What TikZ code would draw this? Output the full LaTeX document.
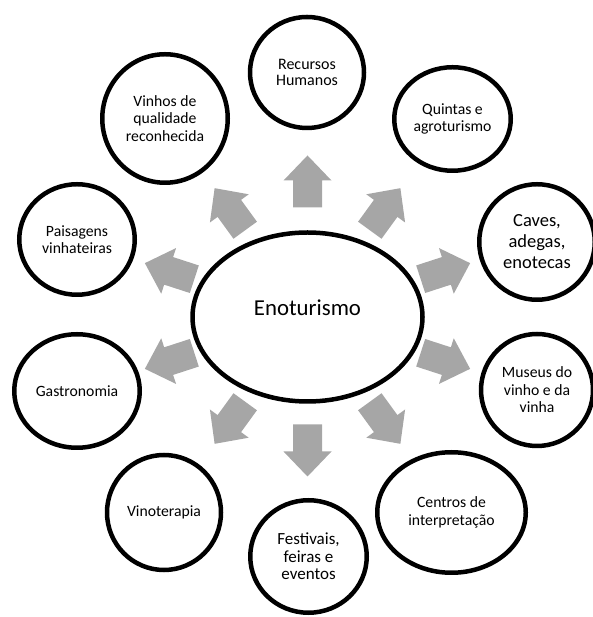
\documentclass[tikz,border=0pt]{standalone}
\usepackage{fontspec}
\setmainfont{Carlito}
\usetikzlibrary{shapes.geometric}
\definecolor{arrowgray}{RGB}{166,166,166}

\begin{document}
\begin{tikzpicture}[x=1pt, y=1pt,
  bubble/.style={ellipse, draw, line width=4.5pt, inner sep=0pt, align=center,
    font=\fontsize{15.7}{17.5}\selectfont},
  blockarrow/.style={fill=arrowgray}]
  \useasboundingbox (0,0) rectangle (592,617);

  \draw node[bubble, minimum width=230, minimum height=169] (eno) at (307.5, 300) {};
  \node[font=\fontsize{22.8}{26}\selectfont] (enotxt) at ([yshift=9pt]eno.center) {Enoturismo};

  \draw node[bubble, minimum width=114, minimum height=111,
    font=\fontsize{16}{16}\selectfont] (rec) at (307, 544.5) {Recursos\\Humanos};
  \draw node[bubble, minimum width=116.5, minimum height=103.5] (qui) at (452.5, 498) {Quintas e\\agroturismo};
  \draw node[bubble, minimum width=115.5, minimum height=115.5,
    font=\fontsize{18.5}{21}\selectfont] (cav) at (537, 375) {Caves,\\adegas,\\enotecas};
  \draw node[bubble, minimum width=112, minimum height=112] (mus) at (537, 227) {Museus do\\vinho e da\\vinha};
  \draw node[bubble, minimum width=148.5, minimum height=120.5] (cen) at (451.5, 104.5) {Centros de\\interpretação};
  \draw node[bubble, minimum width=116.5, minimum height=112.5,
    font=\fontsize{17}{17.5}\selectfont] (fes) at (308.5, 60.5) {Festivais,\\feiras e\\eventos};
  \draw node[bubble, minimum width=114, minimum height=115] (vit) at (164, 104.5) {Vinoterapia};
  \draw node[bubble, minimum width=125.5, minimum height=113.5] (gas) at (77, 226) {Gastronomia};
  \draw node[bubble, minimum width=115.5, minimum height=110.5] (pai) at (77, 377.5) {Paisagens\\vinhateiras};
  \draw node[bubble, minimum width=125.5, minimum height=128.5] (vin) at (165, 498.5) {Vinhos de\\qualidade\\reconhecida};

  \foreach \ang/\dist in {90/134.5, 54/132, 18/145, -18/145, -54/132,
      -90/134.5, -126/132, -162/145, 162/145, 126/132}
    \fill[blockarrow, shift={(307.5, 301)}, shift={(\ang:\dist)}, rotate=\ang]
      (-26,-14.5) -- (1,-14.5) -- (1,-24) -- (26,0) -- (1,24) -- (1,14.5) -- (-26,14.5) -- cycle;

\end{tikzpicture}
\end{document}
